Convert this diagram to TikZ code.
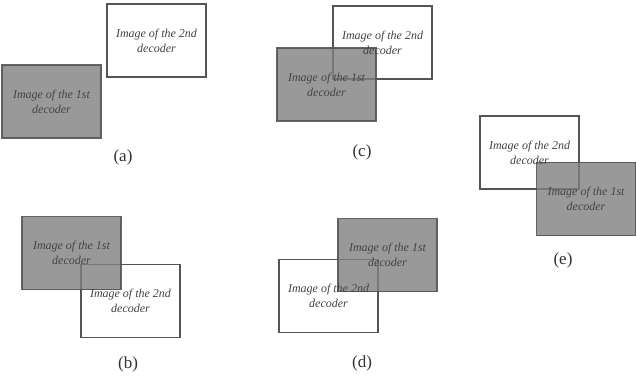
\documentclass[tikz,border=0pt]{standalone}
\usepackage{fontspec}
\setmainfont{Liberation Serif}
\definecolor{edge}{HTML}{555555}
\definecolor{ink}{HTML}{444444}
\definecolor{capink}{HTML}{333333}
\tikzset{
  frame/.style={draw=edge, line width=1.1pt, minimum width=99pt, minimum height=73pt, inner sep=0pt},
  whitebox/.style={frame, fill=white},
  greybox/.style={frame, fill=black!50, fill opacity=0.8, draw opacity=0.9},
  boxtext/.style={text=ink, align=center, font=\fontsize{12}{15}\selectfont\itshape},
  caption/.style={text=capink, font=\fontsize{17}{20}\selectfont}
}
\begin{document}
\begin{tikzpicture}[x=1pt, y=-1pt]
\fill[white] (0,0) rectangle (636,379);
\useasboundingbox (0,0) rectangle (636,379);

% (a) separate images
\node[whitebox] (a2) at (156.5,40.5) {};
\node[greybox] (a1) at (51.5,101.5) {};
\node[boxtext] (a2t) at (a2.center) {Image of the 2nd\\decoder};
\node[boxtext] (a1t) at (a1.center) {Image of the 1st\\decoder};
\node[caption] (ca) at (123,157) {(a)};

% (b) first image top left
\node[whitebox] (b2) at (130.5,301) {};
\node[greybox] (b1) at (71.5,253) {};
\node[boxtext] (b1t) at (b1.center) {Image of the 1st\\decoder};
\node[boxtext] (b2t) at (b2.center) {Image of the 2nd\\decoder};
\node[caption] (cb) at (128,364) {(b)};

% (c) first image bottom left
\node[whitebox] (c2) at (382.5,42.5) {};
\node[greybox] (c1) at (326.5,84.5) {};
\node[boxtext] (c2t) at (c2.center) {Image of the 2nd\\decoder};
\node[boxtext] (c1t) at (c1.center) {Image of the 1st\\decoder};
\node[caption] (cc) at (362,152) {(c)};

% (d) first image top right
\node[whitebox] (d2) at (328.5,296) {};
\node[greybox] (d1) at (387.5,255) {};
\node[boxtext] (d1t) at (d1.center) {Image of the 1st\\decoder};
\node[boxtext] (d2t) at (d2.center) {Image of the 2nd\\decoder};
\node[caption] (cd) at (362,363) {(d)};

% (e) first image bottom right
\node[whitebox] (e2) at (529.5,152.5) {};
\node[greybox] (e1) at (586,199) {};
\node[boxtext] (e2t) at (e2.center) {Image of the 2nd\\decoder};
\node[boxtext] (e1t) at (e1.center) {Image of the 1st\\decoder};
\node[caption] (ce) at (563,260) {(e)};
\end{tikzpicture}
\end{document}
